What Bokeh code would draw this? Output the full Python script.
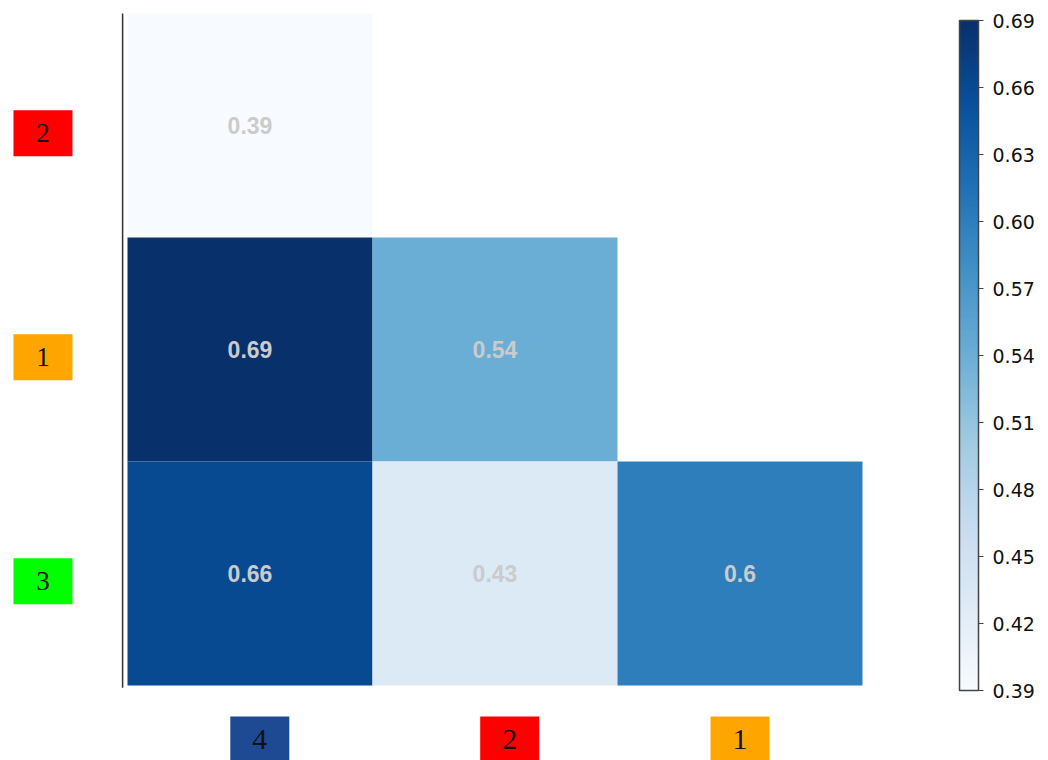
from bokeh.plotting import figure
from bokeh.models import ColumnDataSource, LinearColorMapper, ColorBar, FixedTicker, Range1d, PrintfTickFormatter
from bokeh.palettes import Blues256
from bokeh.core.properties import value
from bokeh.embed import file_html
from bokeh.resources import INLINE

# ---- data ----
row_labels = ["2", "1", "3"]          # top to bottom
col_labels = ["4", "2", "1"]          # left to right
row_colors = ["#ff0000", "#ffa500", "#00ff00"]
col_colors = ["#1d4a93", "#ff0000", "#ffa500"]
values_row_2 = [0.39]
values_row_1 = [0.69, 0.54]
values_row_3 = [0.66, 0.43, 0.6]
cbar_ticks = [0.39, 0.42, 0.45, 0.48, 0.51, 0.54, 0.57, 0.60, 0.63, 0.66, 0.69]
vmin, vmax = 0.39, 0.69

rows_values = [values_row_2, values_row_1, values_row_3]
nrows = len(row_labels)
ncols = len(col_labels)

xs, ys, vals, texts = [], [], [], []
for ri, rv in enumerate(rows_values):
    yc = nrows - 1 - ri + 0.5
    for ci, v in enumerate(rv):
        xs.append(ci + 0.5)
        ys.append(yc)
        vals.append(v)
        texts.append(str(v))
cells = ColumnDataSource(dict(x=xs, y=ys, v=vals, t=texts))

mapper = LinearColorMapper(palette=list(reversed(Blues256)), low=vmin, high=vmax)

W, H = 1048, 760
p = figure(width=W, height=H, output_backend="svg", toolbar_location=None,
           x_range=Range1d(-127 / 245, (W - 127) / 245),
           y_range=Range1d(-(H - 685) / 224, 685 / 224),
           x_axis_location=None, y_axis_location=None, min_border=0)
p.grid.visible = False
p.outline_line_color = None
p.background_fill_color = "white"

p.rect(x="x", y="y", width=1, height=1, source=cells,
       fill_color={"field": "v", "transform": mapper}, line_color=None)
p.text(x="x", y="y", text="t", source=cells, text_align="center", text_baseline="middle",
       text_font=value("Liberation Sans"), text_font_style="bold", text_font_size="23px",
       text_color="#cbcbcb")

# left axis line
p.segment(x0=[-0.02], y0=[-0.01], x1=[-0.02], y1=[nrows], line_color="#333333", line_width=1.5)

# y tick label boxes
ylab = ColumnDataSource(dict(x=[-0.345] * nrows,
                             y=[nrows - 1 - i + 0.5 - 0.035 for i in range(nrows)],
                             t=row_labels, c=row_colors))
p.rect(x="x", y="y", width=59, height=46, width_units="screen", height_units="screen",
       source=ylab, fill_color="c", line_color=None)
p.text(x="x", y="y", text="t", source=ylab, text_align="center", text_baseline="middle",
       text_font=value("Liberation Serif"), text_font_size="27px", text_color="#111111")

# x tick label boxes
x_shift = [0.04, 0.06, 0.0]
xlab = ColumnDataSource(dict(x=[i + 0.5 + x_shift[i] for i in range(ncols)],
                             y=[-0.241] * ncols, t=col_labels, c=col_colors))
p.rect(x="x", y="y", width=59, height=46, width_units="screen", height_units="screen",
       source=xlab, fill_color="c", line_color=None)
p.text(x="x", y="y", text="t", source=xlab, text_align="center", text_baseline="middle",
       text_font=value("Liberation Serif"), text_font_size="30px", text_color="#111111")

cb = ColorBar(color_mapper=mapper, ticker=FixedTicker(ticks=cbar_ticks),
              formatter=PrintfTickFormatter(format="%.2f"),
              width=19, height=670, padding=0, location=(959, 70),
              major_tick_out=5, major_tick_in=0, major_tick_line_color="#444444",
              bar_line_color="#444444", bar_line_width=1.5,
              label_standoff=9, major_label_text_font="DejaVu Sans",
              major_label_text_font_size="19px", major_label_text_color="#111111",
              background_fill_color=None, border_line_color=None)
p.add_layout(cb, "center")

open("out.html", "w").write(file_html(p, INLINE))
